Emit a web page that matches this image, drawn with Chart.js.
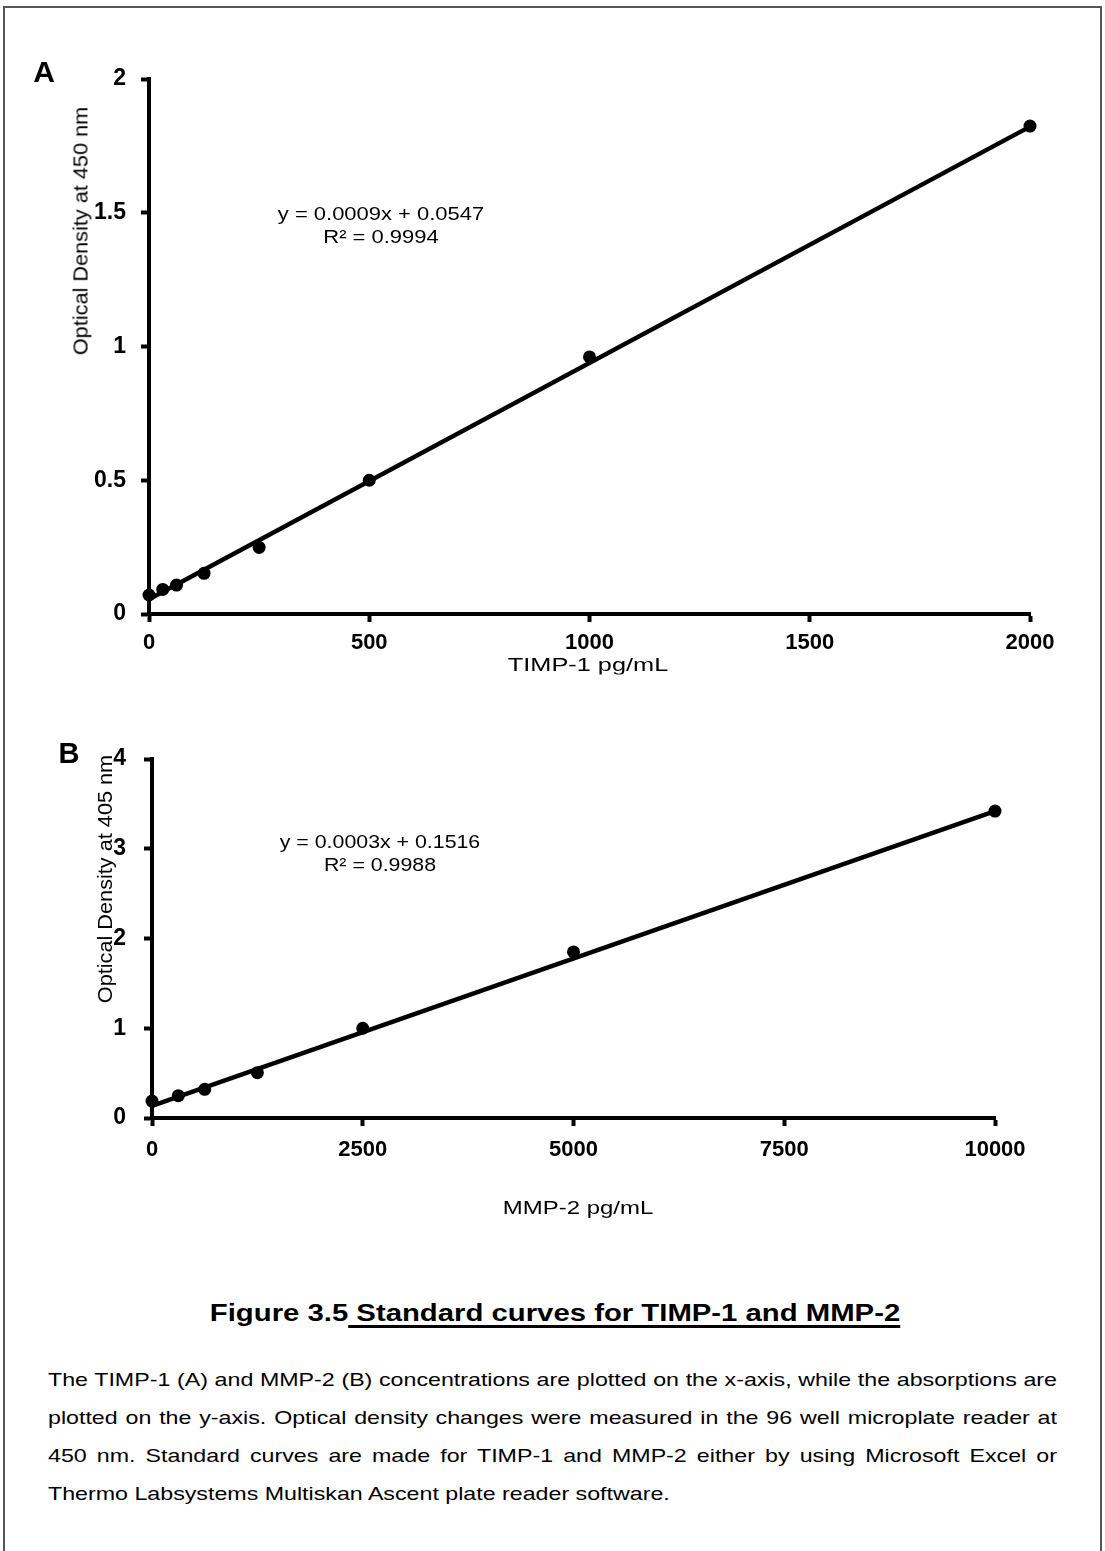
<!DOCTYPE html>
<html>
<head>
<meta charset="utf-8">
<title>Figure 3.5 Standard curves for TIMP-1 and MMP-2</title>
<script src="https://cdn.jsdelivr.net/npm/chart.js@4.4.1/dist/chart.umd.min.js"></script>
<style>
  html, body { margin: 0; padding: 0; background: #fff; }
  body { position: relative; width: 1105px; height: 1551px; overflow: hidden;
         font-family: "Liberation Sans", Arial, sans-serif; color: #000; }
  #frame { position: absolute; left: 3px; top: 6px; width: 1099px; height: 1600px;
           border: 2px solid #555; box-sizing: border-box; }
  canvas { position: absolute; left: 0; }
  .lbl { position: absolute; white-space: nowrap; line-height: 1; }
  .panel { font-weight: bold; }
  .ytitle { font-size: 21px; }
  .xtitle { font-size: 19px; }
  .eq { font-size: 19px; line-height: 23px; text-align: center; }
  #caption { font-size: 24px; font-weight: bold; }
  #caption u { text-decoration-thickness: 3px; text-underline-offset: 4px; }
  #para { position: absolute; left: 48px; top: 1361px; width: 2000px; font-size: 19px; line-height: 38px;
          transform-origin: 0 0; }
  #para div { text-align: justify; text-align-last: justify; }
  #para div.last { text-align-last: left; }
  #para span { display: inline-block; white-space: nowrap; }
</style>
</head>
<body>
<div id="frame"></div>

<canvas id="chartA" width="1105" height="700" style="top:0px"></canvas>
<canvas id="chartB" width="1105" height="560" style="top:700px"></canvas>

<!-- panel A texts -->
<div class="lbl panel" style="left:44px; top:72px; font-size:30px" data-fit="0">A</div>
<div class="lbl ytitle" style="left:80px; top:231px" data-rot="1" data-fit="248">Optical Density at 450 nm</div>
<div class="lbl eq" style="left:381px; top:225px" data-fit="207">y = 0.0009x + 0.0547<br>R² = 0.9994</div>
<div class="lbl xtitle" style="left:588px; top:664px" data-fit="160">TIMP-1 pg/mL</div>

<!-- panel B texts -->
<div class="lbl panel" style="left:69px; top:753px; font-size:29px" data-fit="0">B</div>
<div class="lbl ytitle" style="left:104px; top:879px" data-rot="1" data-fit="248">Optical Density at 405 nm</div>
<div class="lbl eq" style="left:380px; top:853px" data-fit="201">y = 0.0003x + 0.1516<br>R² = 0.9988</div>
<div class="lbl xtitle" style="left:578px; top:1207px" data-fit="150">MMP-2 pg/mL</div>

<!-- figure caption -->
<div class="lbl" id="caption" style="left:555px; top:1313px" data-fit="690">Figure 3.5<u> Standard curves for TIMP-1 and MMP-2</u></div>
<div id="para">
  <div><span>The TIMP-1 (A) and MMP-2 (B) concentrations are plotted on the x-axis, while the absorptions are</span></div>
  <div><span>plotted on the y-axis. Optical density changes were measured in the 96 well microplate reader at</span></div>
  <div><span>450 nm. Standard curves are made for TIMP-1 and MMP-2 either by using Microsoft Excel or</span></div>
  <div class="last"><span>Thermo Labsystems Multiskan Ascent plate reader software.</span></div>
</div>

<script>
// ---- datos: curva TIMP-1 (A) ----
const timpConc = [0, 31.25, 62.5, 125, 250, 500, 1000, 2000];
const timpOD   = [0.071, 0.092, 0.108, 0.152, 0.249, 0.50, 0.961, 1.824];
const timpFitX = [0, 2000];
const timpFitY = [0.055, 1.822];
const timpXTicks = [0, 500, 1000, 1500, 2000];
const timpYTicks = [0, 0.5, 1, 1.5, 2];

// ---- datos: curva MMP-2 (B) ----
const mmpConc = [0, 312.5, 625, 1250, 2500, 5000, 10000];
const mmpOD   = [0.189, 0.249, 0.32, 0.505, 1.0, 1.85, 3.42];
const mmpFitX = [0, 10000];
const mmpFitY = [0.134, 3.42];
const mmpXTicks = [0, 2500, 5000, 7500, 10000];
const mmpYTicks = [0, 1, 2, 3, 4];

const FONT = '"Liberation Sans", Arial, sans-serif';

function toPoints(xs, ys) {
  return xs.map((x, i) => ({ x: x, y: ys[i] }));
}

function axis(tickValues, fontSize, pad, fitFn) {
  return {
    type: 'linear',
    min: tickValues[0],
    max: tickValues[tickValues.length - 1],
    afterBuildTicks: s => { s.ticks = tickValues.map(v => ({ value: v })); },
    afterFit: fitFn,
    ticks: {
      color: '#000',
      padding: pad,
      font: { family: FONT, size: fontSize, weight: 'bold' },
      callback: v => String(v)
    },
    grid: { drawOnChartArea: false, drawTicks: true, tickLength: 8, tickWidth: 4, tickColor: '#000' },
    border: { display: true, color: '#000', width: 4 }
  };
}

function makeCurve(id, cfg) {
  return new Chart(document.getElementById(id), {
    type: 'scatter',
    data: {
      datasets: [
        {
          data: toPoints(cfg.fitX, cfg.fitY),
          showLine: true,
          borderColor: '#000',
          borderWidth: 4.5,
          pointRadius: 0,
          clip: false
        },
        {
          data: toPoints(cfg.xs, cfg.ys),
          pointRadius: 6.5,
          pointBackgroundColor: '#000',
          pointBorderWidth: 0,
          clip: false
        }
      ]
    },
    options: {
      responsive: false,
      animation: false,
      devicePixelRatio: 1,
      layout: { padding: cfg.padding },
      plugins: { legend: { display: false }, tooltip: { enabled: false } },
      scales: {
        x: axis(cfg.xTicks, 22, cfg.xPad, s => { s.height = cfg.xBox; }),
        y: axis(cfg.yTicks, 23, cfg.yPad, s => { s.width = cfg.yBox; })
      }
    }
  });
}

makeCurve('chartA', {
  xs: timpConc, ys: timpOD, fitX: timpFitX, fitY: timpFitY,
  xTicks: timpXTicks, yTicks: timpYTicks,
  padding: { top: 79, right: 75, left: 0, bottom: 0 },
  yBox: 149, xBox: 86, yPad: 15, xPad: 8
});

makeCurve('chartB', {
  xs: mmpConc, ys: mmpOD, fitX: mmpFitX, fitY: mmpFitY,
  xTicks: mmpXTicks, yTicks: mmpYTicks,
  padding: { top: 59, right: 110, left: 0, bottom: 0 },
  yBox: 152, xBox: 142, yPad: 18, xPad: 11
});

// texto: centrar y ajustar ancho
document.querySelectorAll('.lbl').forEach(el => {
  let t = 'translate(-50%,-50%)';
  if (el.dataset.rot) t += ' rotate(-90deg)';
  const w = +el.dataset.fit;
  if (w > 0) t += ' scaleX(' + (w / el.offsetWidth).toFixed(3) + ')';
  el.style.transform = t;
});

// párrafo justificado, estirado al ancho del original
const para = document.getElementById('para');
const spans = para.querySelectorAll('span');
let widest = 0;
spans.forEach(s => { widest = Math.max(widest, s.getBoundingClientRect().width); });
spans.forEach(s => { s.style.display = 'inline'; s.style.whiteSpace = 'normal'; });
const boxW = Math.ceil(widest + 2);
para.style.width = boxW + 'px';
para.style.transform = 'scaleX(' + (1009 / boxW).toFixed(4) + ')';
</script>
</body>
</html>
